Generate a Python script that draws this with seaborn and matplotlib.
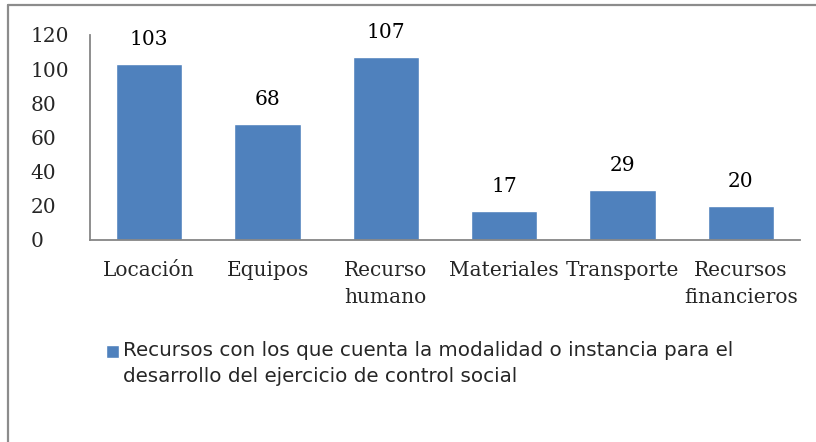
import matplotlib
matplotlib.use("Agg")
import matplotlib.pyplot as plt
import seaborn as sns
from matplotlib.legend_handler import HandlerPatch
from matplotlib.patches import Rectangle
from matplotlib.lines import Line2D

# data
categories = ["Locación", "Equipos", "Recurso\nhumano", "Materiales", "Transporte", "Recursos\nfinancieros"]
values = [103, 68, 107, 17, 29, 20]
series_label = ("Recursos con los que cuenta la modalidad o instancia para el\n"
                "desarrollo del ejercicio de control social")
y_ticks = [0, 20, 40, 60, 80, 100, 120]

bar_color = "#4F81BD"
axis_color = "#868686"

sns.set_style("white")
plt.rcParams['font.family'] = ['DejaVu Serif']

fig = plt.figure(figsize=(8.16, 4.42), dpi=100)
ax = fig.add_axes([90 / 816, 1 - 240 / 442, 710 / 816, 205 / 442])

sns.barplot(x=categories, y=values, color=bar_color, width=0.56, saturation=1,
            label=series_label, ax=ax)

ax.set_ylim(0, 120)
ax.set_xlim(-0.5, 5.5)
ax.set_yticks(y_ticks)
ax.set_xlabel("")
ax.set_ylabel("")

for c in ax.containers:
    ax.bar_label(c, padding=11, fontsize=14.5, color="black")

for side in ["top", "right"]:
    ax.spines[side].set_visible(False)
for side in ["left", "bottom"]:
    ax.spines[side].set_color(axis_color)
    ax.spines[side].set_linewidth(1.3)

ax.tick_params(axis="y", length=0, pad=43, labelsize=14.5)
ax.tick_params(axis="x", length=0, pad=15, labelsize=14.5)
for t in ax.get_yticklabels():
    t.set_ha("left")
for t in ax.get_xticklabels():
    t.set_linespacing(1.55)

if ax.get_legend() is not None:
    ax.get_legend().remove()


def small_square(legend, orig_handle, xdescent, ydescent, width, height, fontsize):
    # small marker lined up with the first line of the label
    s = 9.5
    return Rectangle((-xdescent - 1, -ydescent + height - 7.6), s, s)


handles, labels = ax.get_legend_handles_labels()
leg = fig.legend([ax.patches[0]], labels[:1], loc="upper left",
                 bbox_to_anchor=(97 / 816, 1 - 331 / 442), frameon=False,
                 handlelength=0.5, handleheight=2.3, handletextpad=0.3,
                 borderpad=0, prop={"family": "DejaVu Sans", "size": 14.3},
                 handler_map={Rectangle: HandlerPatch(patch_func=small_square)})
for t in leg.get_texts():
    t.set_linespacing(1.5)

# outer chart frame (only left and top edges are visible in the crop)
fig.add_artist(Line2D([8 / 816, 8 / 816], [0, 1 - 5 / 442], transform=fig.transFigure,
                      color="#8c8c8c", lw=1.6))
fig.add_artist(Line2D([8 / 816, 1], [1 - 5 / 442, 1 - 5 / 442], transform=fig.transFigure,
                      color="#8c8c8c", lw=1.6))

fig.savefig("out.png", dpi=100)
